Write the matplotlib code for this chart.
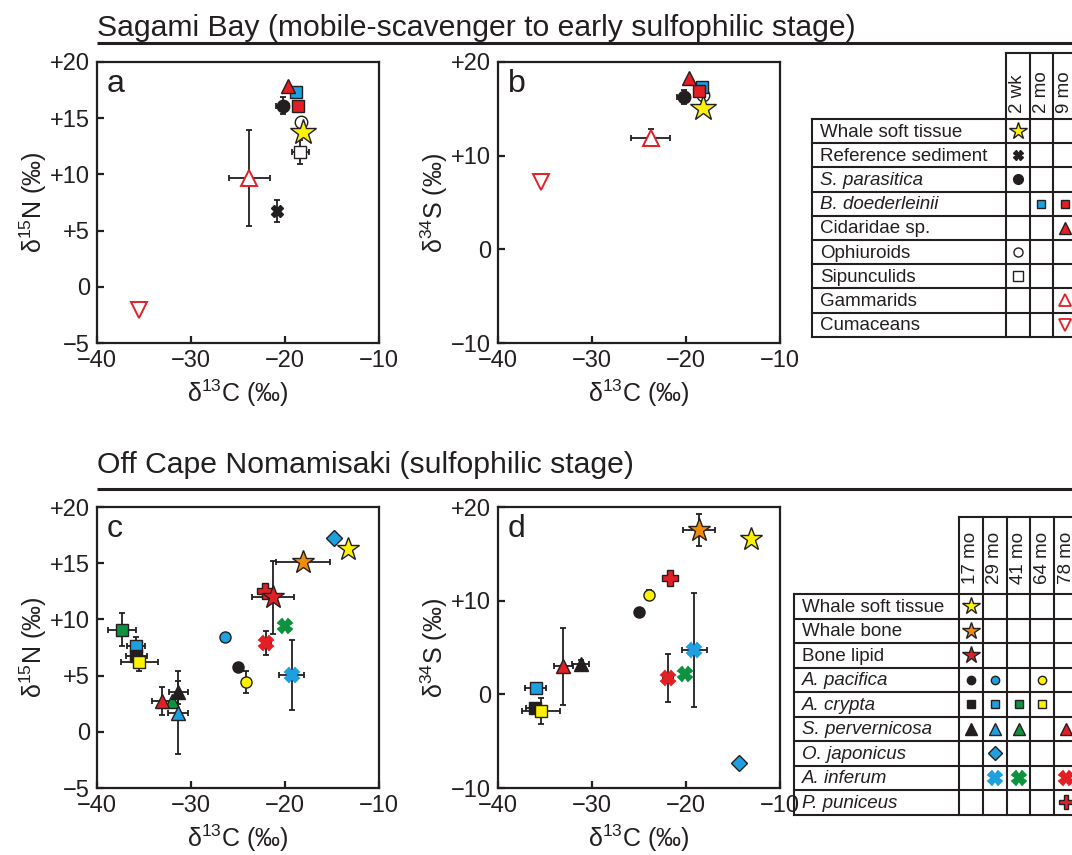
import numpy as np
import matplotlib
matplotlib.use('Agg')
import matplotlib.pyplot as plt

plt.rcParams['font.family'] = ['Liberation Sans', 'DejaVu Sans']
plt.rcParams['mathtext.fontset'] = 'custom'
plt.rcParams['mathtext.rm'] = 'Liberation Sans'
plt.rcParams['mathtext.it'] = 'Liberation Sans:italic'

ink = '#231f20'
yellow = '#fff200'
orange = '#f08c0a'
red = '#e31e24'
blue = '#1e9fe0'
green = '#0f9240'
nan = np.nan

# ---- Sagami Bay (panels a, b); lists are in drawing order ----
top_rows = ['Whale soft tissue', 'Reference sediment', 'S. parasitica', 'B. doederleinii',
            'Cidaridae sp.', 'Ophiuroids', 'Sipunculids', 'Gammarids', 'Cumaceans']
top_italic = [2, 3]
top_cols = ['2 wk', '2 mo', '9 mo']
# series: gammarids, cumaceans, sediment, sipunculids, ophiuroids, soft tissue,
#         S. parasitica, B. doederleinii 2mo, B. doederleinii 9mo, Cidaridae
top_row = [7, 8, 1, 6, 5, 0, 2, 3, 3, 4]
top_col = [2, 2, 0, 0, 0, 0, 0, 1, 2, 2]
a_d13C = [-23.8, -35.5, -20.85, -18.4, -18.3, -18.1, -20.25, -18.8, -18.6, -19.7]
a_d15N = [9.7, -2.1, 6.75, 12.0, 14.7, 13.8, 16.1, 17.35, 16.1, 17.9]
a_xerr = [2.2, 0, 0, 0.9, 0, 0, 0.7, 0, 0, 0]
a_yerr = [4.25, 0, 1.0, 1.1, 0, 0, 0.75, 0, 0, 0]
b_d13C = [-23.75, -35.4, nan, nan, -18.2, -18.15, -20.25, -18.3, -18.6, -19.65]
b_d34S = [11.9, 7.2, nan, nan, 16.5, 15.1, 16.3, 17.3, 16.9, 18.3]
b_xerr = [2.1, 0, 0, 0, 0, 0, 0.7, 0, 0, 0]
b_yerr = [0.9, 0, 0, 0, 0, 0, 0.75, 0, 0, 0]
top_marker = ['^', 'v', 'X', 's', 'o', '*', 'o', 's', 's', '^']
top_face = ['white', 'white', ink, 'white', 'white', yellow, ink, blue, red, red]
top_edge = [red, red, ink, ink, ink, ink, ink, ink, ink, ink]
top_size = [12, 11, 9, 9, 9, 19, 9, 9, 9, 10]
top_tsize = [8.5, 8.5, 7, 6.5, 6.5, 13, 7, 6, 6, 8]

# ---- Off Cape Nomamisaki (panels c, d) ----
bot_rows = ['Whale soft tissue', 'Whale bone', 'Bone lipid', 'A. pacifica', 'A. crypta',
            'S. pervernicosa', 'O. japonicus', 'A. inferum', 'P. puniceus']
bot_italic = [3, 4, 5, 6, 7, 8]
bot_cols = ['17 mo', '29 mo', '41 mo', '64 mo', '78 mo']
# series: A. crypta 41/29/17/64, S. pervernicosa 41/78/17/29, A. pacifica 29/17/64,
#         A. inferum 41/78/29, P. puniceus 78, bone lipid, whale bone, O. japonicus, soft tissue
bot_row = [4, 4, 4, 4, 5, 5, 5, 5, 3, 3, 3, 7, 7, 7, 8, 2, 1, 6, 0]
bot_col = [2, 1, 0, 3, 2, 4, 0, 1, 1, 0, 3, 2, 4, 1, 4, 0, 0, 1, 0]
c_d13C = [-37.3, -35.85, -35.8, -35.5, -32.05, -33.1, -31.35, -31.4, -26.4, -25.0, -24.1,
          -20.05, -22.0, -19.3, -22.15, -21.3, -18.1, -14.75, -13.3]
c_d15N = [9.1, 7.65, 6.7, 6.2, 2.75, 2.75, 3.5, 1.7, 8.45, 5.75, 4.45,
          9.4, 7.9, 5.05, 12.55, 11.95, 15.1, 17.2, 16.25]
c_xerr = [1.5, 1.0, 1.1, 2.0, 0, 1.0, 1.0, 1.1, 0, 0, 0, 0, 0.5, 1.3, 0, 2.25, 2.9, 0, 0]
c_yerr = [1.5, 0.8, 0, 0.8, 0, 1.25, 1.0, 3.7, 0, 0, 1.0, 0, 1.1, 3.1, 0, 3.25, 0, 0, 0]
d_d13C = [nan, -36.0, -36.05, -35.4, nan, -33.05, -31.2, nan, nan, -24.95, -23.9,
          -20.1, -21.9, -19.1, -21.7, nan, -18.65, -14.4, -13.1]
d_d34S = [nan, 0.7, -1.5, -1.8, nan, 3.0, 3.2, nan, nan, 8.8, 10.6,
          2.15, 1.75, 4.7, 12.4, nan, 17.5, -7.35, 16.6]
d_xerr = [0, 1.1, 1.0, 2.0, 0, 1.0, 0.9, 0, 0, 0, 0, 0, 0.5, 1.3, 0, 0, 1.7, 0, 0]
d_yerr = [0, 0, 0, 1.4, 0, 4.1, 0.5, 0, 0, 0, 0.5, 0, 2.6, 6.1, 0, 0, 1.7, 0, 0]
bot_marker = ['s', 's', 's', 's', '^', '^', '^', '^', 'o', 'o', 'o',
              'X', 'X', 'X', 'P', '*', '*', 'D', '*']
bot_face = [green, blue, ink, yellow, green, red, ink, blue, blue, ink, yellow,
            green, red, blue, red, red, orange, blue, yellow]
bot_edge = [ink] * 11 + [green, red, blue] + [ink] * 5
bot_size = [8.5, 8.5, 8.5, 8.5, 10, 10, 10, 10, 8, 8, 8, 10, 10, 10, 11, 17, 17, 8, 17]
bot_tsize = [6, 6, 6, 6, 8, 8, 8, 8, 6, 6, 6, 10, 10, 10, 10, 13, 13, 7, 13]

W, H = 1072, 855
fig = plt.figure(figsize=(W / 100, H / 100), dpi=100)

# overlay in pixel coordinates for titles and tables
ov = fig.add_axes([0, 0, 1, 1])
ov.set_xlim(0, W)
ov.set_ylim(H, 0)
ov.axis('off')


def px_axes(left, top, right, bottom):
    return fig.add_axes([left / W, 1 - bottom / H, (right - left) / W, (bottom - top) / H])


def panel(ax, xs, ys, xerr, yerr, markers, faces, edges, sizes, ylim, yticks, ylabels,
          letter, ylabel):
    for i in range(len(xs)):
        if np.isnan(xs[i]):
            continue
        if xerr[i] or yerr[i]:
            ax.errorbar(xs[i], ys[i], xerr=xerr[i] or None, yerr=yerr[i] or None, fmt='none',
                        ecolor=ink, elinewidth=1.3, capsize=2.5, capthick=1.3, zorder=2)
        ax.plot(xs[i], ys[i], ls='none', marker=markers[i], ms=sizes[i], mfc=faces[i],
                mec=edges[i], mew=1.0 if edges[i] == ink else 1.4, zorder=3 + i * 0.01)
    ax.set_xlim(-40, -10)
    ax.set_ylim(*ylim)
    ax.set_xticks([-40, -30, -20, -10])
    ax.set_xticklabels(['\u221240', '\u221230', '\u221220', '\u221210'])
    ax.set_yticks(yticks)
    ax.set_yticklabels(ylabels)
    ax.tick_params(direction='in', length=5, width=1.6, labelsize=17, colors=ink, pad=5)
    for s in ax.spines.values():
        s.set_linewidth(1.6)
        s.set_color(ink)
    ax.set_xlabel(r'$\mathregular{\delta^{13}}$C (‰)', fontsize=18, color=ink, labelpad=4)
    ax.set_ylabel(ylabel, fontsize=18, color=ink, labelpad=1)
    ax.text(0.035, 0.975, letter, transform=ax.transAxes, fontsize=23, color=ink,
            ha='left', va='top')


n_lab = r'$\mathregular{\delta^{15}}$N (‰)'
s_lab = r'$\mathregular{\delta^{34}}$S (‰)'
n_ticks = [-5, 0, 5, 10, 15, 20]
n_tlab = ['\u22125', '0', '+5', '+10', '+15', '+20']
s_ticks = [-10, 0, 10, 20]
s_tlab = ['\u221210', '0', '+10', '+20']

ax_a = px_axes(97, 62, 379, 343)
panel(ax_a, a_d13C, a_d15N, a_xerr, a_yerr, top_marker, top_face, top_edge, top_size,
      (-5, 20), n_ticks, n_tlab, 'a', n_lab)
ax_b = px_axes(498, 62, 780, 343)
panel(ax_b, b_d13C, b_d34S, b_xerr, b_yerr, top_marker, top_face, top_edge, top_size,
      (-10, 20), s_ticks, s_tlab, 'b', s_lab)
ax_c = px_axes(97, 507, 379, 788)
panel(ax_c, c_d13C, c_d15N, c_xerr, c_yerr, bot_marker, bot_face, bot_edge, bot_size,
      (-5, 20), n_ticks, n_tlab, 'c', n_lab)
ax_d = px_axes(498, 507, 780, 788)
panel(ax_d, d_d13C, d_d34S, d_xerr, d_yerr, bot_marker, bot_face, bot_edge, bot_size,
      (-10, 20), s_ticks, s_tlab, 'd', s_lab)

# section titles with rule below
ov.text(97, 36, 'Sagami Bay (mobile-scavenger to early sulfophilic stage)', fontsize=21.7,
        color=ink, va='baseline')
ov.plot([97, W], [43, 43], color=ink, lw=2.2, solid_capstyle='butt')
ov.text(97, 473, 'Off Cape Nomamisaki (sulfophilic stage)', fontsize=21.7,
        color=ink, va='baseline')
ov.plot([97, W], [489, 489], color=ink, lw=2.2, solid_capstyle='butt')


def table(rows, cols, italic, srow, scol, markers, faces, edges, tsizes,
          x0, xl, cw, ytop, y0, rh, gap):
    nr, nc = len(rows), len(cols)
    xr = xl + nc * cw
    yb = y0 + nr * rh
    kw = dict(color=ink, lw=1.5, solid_capstyle='projecting', clip_on=False)
    for i in range(nr + 1):
        ov.plot([x0, xr], [y0 + i * rh] * 2, **kw)
    ov.plot([xl, xr], [ytop, ytop], **kw)
    ov.plot([x0, x0], [y0, yb], **kw)
    for j in range(nc + 1):
        ov.plot([xl + j * cw] * 2, [ytop, yb], **kw)
    for i, r in enumerate(rows):
        ov.text(x0 + 8, y0 + (i + 0.5) * rh + 1, r, fontsize=13.5, color=ink, va='center',
                style='italic' if i in italic else 'normal')
    for j, c in enumerate(cols):
        ov.text(xl + (j + 0.5) * cw, y0 - gap, c, fontsize=13.5, color=ink, rotation=90,
                ha='center', va='bottom')
    for k in range(len(srow)):
        ov.plot(xl + (scol[k] + 0.5) * cw, y0 + (srow[k] + 0.5) * rh, ls='none',
                marker=markers[k], ms=tsizes[k], mfc=faces[k], mec=edges[k],
                mew=1.0 if edges[k] == ink else 1.3, clip_on=False)


table(top_rows, top_cols, top_italic, top_row, top_col, top_marker, top_face, top_edge,
      top_tsize, 812, 1006, 23.5, 53, 119, 24.2, 6)
table(bot_rows, bot_cols, bot_italic, bot_row, bot_col, bot_marker, bot_face, bot_edge,
      bot_tsize, 794, 959, 23.8, 517, 594, 24.5, 10)

fig.savefig('out.png', dpi=100)
